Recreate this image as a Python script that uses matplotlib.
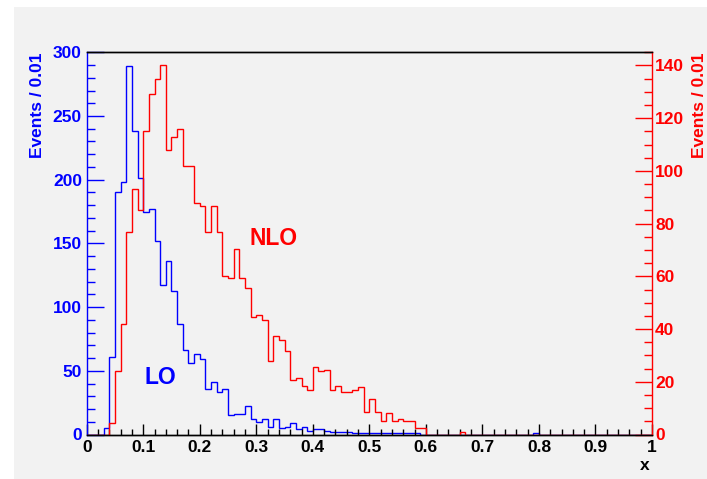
import numpy as np
import matplotlib
matplotlib.use("Agg")
import matplotlib.pyplot as plt
from matplotlib.patches import Rectangle
from matplotlib.ticker import MultipleLocator

plt.rcParams['font.family'] = ['Liberation Sans', 'DejaVu Sans']
plt.rcParams['font.weight'] = 'bold'

# histogram contents, 100 bins of width 0.01 on [0, 1]
bin_width = 0.01
lo_counts = [
    0, 0, 0, 5, 61, 190, 198, 289, 238, 201,
    175, 177, 152, 117, 136, 113, 87, 66, 56, 63,
    59, 36, 41, 33, 36, 15, 16, 16, 22, 12,
    10, 12, 6, 12, 5, 6, 9, 4, 6, 3,
    4, 4, 3, 2, 2, 2, 2, 1, 1, 1,
    1, 1, 1, 1, 1, 1, 1, 1, 1, 0,
    0, 0, 0, 0, 0, 0, 0, 0, 0, 0,
    0, 0, 0, 0, 0, 0, 0, 0, 0, 1,
    0, 0, 0, 0, 0, 0, 0, 0, 0, 0,
    0, 0, 0, 0, 0, 0, 0, 0, 0, 0,
]
nlo_counts = [
    0, 0, 0, 0, 4.5, 24, 42, 77, 93, 85,
    115, 129, 135, 140, 108, 113, 116, 102, 102, 88,
    86.5, 77, 86.5, 77, 60, 59.5, 70.5, 59.5, 55.5, 44.5,
    45.5, 43.5, 28, 37.5, 36, 31.5, 20.5, 21.5, 18.5, 17,
    25.5, 24, 24.5, 17, 18.5, 16, 16, 17, 18, 8.5,
    13.5, 8.5, 5, 8, 5, 6, 5, 5, 2.5, 2.5,
    0, 0, 0, 0, 0, 0, 1, 0, 0, 0,
    0, 0, 0, 0, 0, 0, 0, 0, 0, 0,
    0, 0, 0, 0, 0, 0, 0, 0, 0, 0,
    0, 0, 0, 0, 0, 0, 0, 0, 0, 0,
]
x_ticks = [0, 0.1, 0.2, 0.3, 0.4, 0.5, 0.6, 0.7, 0.8, 0.9, 1]
x_tick_labels = ['0', '0.1', '0.2', '0.3', '0.4', '0.5', '0.6', '0.7', '0.8', '0.9', '1']

W, H = 707, 479
bg = '#f2f2f2'
blue = '#0000ff'
red = '#ff0000'

fig = plt.figure(figsize=(W / 100, H / 100), dpi=100)
fig.patch.set_facecolor('white')
fig.patches.append(Rectangle((14 / W, 0), 1 - 14 / W, 1 - 7 / H,
                             transform=fig.transFigure, facecolor=bg,
                             edgecolor='none', zorder=-10))

ax = fig.add_axes([86.7 / W, 1 - 434.5 / H, (652 - 86.7) / W, (434.5 - 52.3) / H])
ax.set_facecolor(bg)
ax2 = ax.twinx()
ax2.patch.set_visible(False)

edges = np.arange(len(lo_counts) + 1) * bin_width
ax.stairs(lo_counts, edges, color=blue, lw=1.0, baseline=None)
ax2.stairs(nlo_counts, edges, color=red, lw=1.0, baseline=None)

ax.set_xlim(0, 1)
ax.set_ylim(0, 300)
ax2.set_ylim(0, 145)

# spines
for a in (ax, ax2):
    for s in a.spines.values():
        s.set_linewidth(1.0)
ax.spines['left'].set_color(blue)
ax.spines['right'].set_visible(False)
ax2.spines['left'].set_visible(False)
ax2.spines['right'].set_color(red)
ax.spines['top'].set_color('black')
ax.spines['bottom'].set_color('black')
ax2.spines['top'].set_color('black')
ax2.spines['bottom'].set_color('black')

# x axis ticks
ax.set_xticks(x_ticks)
ax.set_xticklabels(x_tick_labels)
ax.xaxis.set_minor_locator(MultipleLocator(0.02))
ax.tick_params(axis='x', which='major', direction='in', length=8, width=1,
               color='black', labelsize=12.5, pad=4, top=False)
ax.tick_params(axis='x', which='minor', direction='in', length=4, width=1,
               color='black', top=False)

# left axis
ax.yaxis.set_major_locator(MultipleLocator(50))
ax.yaxis.set_minor_locator(MultipleLocator(10))
ax.tick_params(axis='y', which='major', direction='in', length=12, width=1,
               color=blue, labelcolor=blue, labelsize=12.5, pad=3.4, right=False)
ax.tick_params(axis='y', which='minor', direction='in', length=6, width=1,
               color=blue, right=False)

# right axis
ax2.yaxis.set_major_locator(MultipleLocator(20))
ax2.yaxis.set_minor_locator(MultipleLocator(5))
ax2.tick_params(axis='y', which='major', direction='in', length=12, width=1,
                color=red, labelcolor=red, labelsize=12.5, pad=2.2, left=False)
ax2.tick_params(axis='y', which='minor', direction='in', length=6, width=1,
                color=red, left=False)

# labels
fig.text(38 / W, 1 - 52.5 / H, 'Events / 0.01', rotation=90, ha='center',
         va='top', color=blue, fontsize=12.5)
fig.text(700 / W, 1 - 52.5 / H, 'Events / 0.01', rotation=90, ha='center',
         va='top', color=red, fontsize=12.5)
fig.text(645 / W, 1 - 465 / H, 'x', ha='center', va='center',
         color='black', fontsize=12.5)

ax.text(0.13, 45, 'LO', color=blue, fontsize=16.5, ha='center', va='center')
ax.text(0.33, 153.5, 'NLO', color=red, fontsize=16.5, ha='center', va='center')

fig.savefig('out.png', dpi=100, facecolor=fig.get_facecolor())
